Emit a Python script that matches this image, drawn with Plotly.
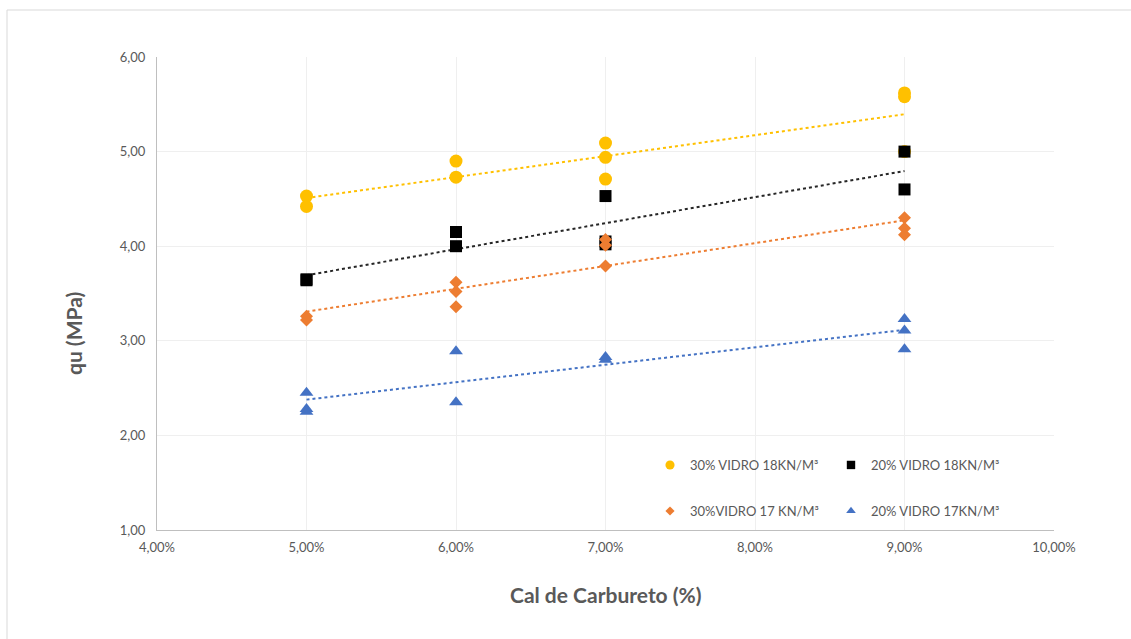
import numpy as np
import plotly.graph_objects as go

# Cal de carbureto (fraction) and compressive strength qu (MPa) per mix
x_v30_18 = [0.05, 0.05, 0.06, 0.06, 0.07, 0.07, 0.07, 0.09, 0.09, 0.09]
y_v30_18 = [4.53, 4.42, 4.90, 4.73, 5.09, 4.94, 4.71, 5.62, 5.58, 5.00]

x_v20_18 = [0.05, 0.05, 0.06, 0.06, 0.07, 0.07, 0.07, 0.09, 0.09]
y_v20_18 = [3.65, 3.64, 4.15, 4.00, 4.53, 4.05, 4.02, 5.00, 4.60]

x_v30_17 = [0.05, 0.05, 0.06, 0.06, 0.06, 0.07, 0.07, 0.07, 0.09, 0.09, 0.09]
y_v30_17 = [3.26, 3.22, 3.62, 3.52, 3.36, 4.07, 4.01, 3.79, 4.30, 4.19, 4.12]

x_v20_17 = [0.05, 0.05, 0.05, 0.06, 0.06, 0.07, 0.07, 0.09, 0.09, 0.09]
y_v20_17 = [2.45, 2.28, 2.25, 2.89, 2.35, 2.83, 2.80, 3.23, 3.11, 2.91]

names = ["30% VIDRO 18KN/M³", "20% VIDRO 18KN/M³", "30%VIDRO 17 KN/M³", "20% VIDRO 17KN/M³"]

series = [
    (x_v30_18, y_v30_18, names[0], "#FFC000", "#FFC000", "circle", 13, "legend"),
    (x_v20_18, y_v20_18, names[1], "#000000", "#262626", "square", 12, "legend"),
    (x_v30_17, y_v30_17, names[2], "#ED7D31", "#ED7D31", "diamond", 10, "legend2"),
    (x_v20_17, y_v20_17, names[3], "#4472C4", "#4472C4", "triangle-up", 12, "legend2"),
]

fig = go.Figure()

# Linear trendlines (least squares) over each series' data range
for xs, ys, name, col, tcol, sym, sz, leg in series:
    a, b = np.polyfit(xs, ys, 1)
    xt = [min(xs), max(xs)]
    fig.add_trace(go.Scatter(
        x=xt, y=[a * v + b for v in xt], mode="lines",
        line=dict(color=tcol, width=2, dash="dot"),
        showlegend=False, hoverinfo="skip"))

# Data markers
for xs, ys, name, col, tcol, sym, sz, leg in series:
    fig.add_trace(go.Scatter(
        x=xs, y=ys, mode="markers", name=name, showlegend=False,
        marker=dict(color=col, symbol=sym, size=sz, line=dict(width=0))))

# Legend entries with small symbols
for xs, ys, name, col, tcol, sym, sz, leg in series:
    fig.add_trace(go.Scatter(
        x=[None], y=[None], mode="markers", name=name, legend=leg,
        marker=dict(color=col, symbol=sym, size=sz * 0.7, line=dict(width=0))))

W, H = 1131, 639
L, R, T, B = 157, 77, 57, 109
pw, ph = W - L - R, H - T - B


def px(xp):
    return (xp - L) / pw


def py(yp):
    return (H - B - yp) / ph


grey = "#595959"
font_family = "Lato, 'Open Sans', sans-serif"

legend_common = dict(
    orientation="h", xanchor="left", yanchor="middle",
    font=dict(family=font_family, size=13, color=grey),
    bgcolor="rgba(0,0,0,0)", entrywidth=136, entrywidthmode="pixels",
    itemsizing="trace", tracegroupgap=0,
)

fig.update_layout(
    width=W, height=H,
    margin=dict(l=L, r=R, t=T, b=B),
    paper_bgcolor="white", plot_bgcolor="white",
    separators=",.",
    font=dict(family=font_family, color=grey),
    legend=dict(x=px(650), y=py(465), **legend_common),
    legend2=dict(x=px(650), y=py(511), **legend_common),
    xaxis=dict(
        range=[0.04, 0.10], dtick=0.01, tick0=0.04, tickformat=".2%",
        showgrid=True, gridcolor="#EFEFEF", gridwidth=1,
        showline=True, linecolor="#BFBFBF", linewidth=1,
        zeroline=False, ticks="", ticklabelstandoff=5,
        tickfont=dict(size=13, color=grey),
    ),
    yaxis=dict(
        range=[1, 6], dtick=1, tick0=1, tickformat=".2f",
        showgrid=True, gridcolor="#EFEFEF", gridwidth=1,
        showline=True, linecolor="#BFBFBF", linewidth=1,
        zeroline=False, ticks="", ticklabelstandoff=8,
        tickfont=dict(size=13, color=grey),
    ),
    annotations=[
        dict(text="<b>Cal de Carbureto (%)</b>", xref="paper", yref="paper",
             x=px(606), y=py(594), xanchor="center", yanchor="middle",
             showarrow=False, font=dict(size=21, color=grey)),
        dict(text="<b>qu (MPa)</b>", xref="paper", yref="paper",
             x=px(73), y=py(334), xanchor="center", yanchor="middle",
             textangle=-90, showarrow=False, font=dict(size=21, color=grey)),
    ],
    shapes=[dict(
        type="rect", xref="paper", yref="paper",
        x0=px(7), x1=px(1140), y0=py(650), y1=py(10),
        line=dict(color="#D9D9D9", width=1), fillcolor="rgba(0,0,0,0)",
        layer="below")],
)

fig.write_html("out.html")
